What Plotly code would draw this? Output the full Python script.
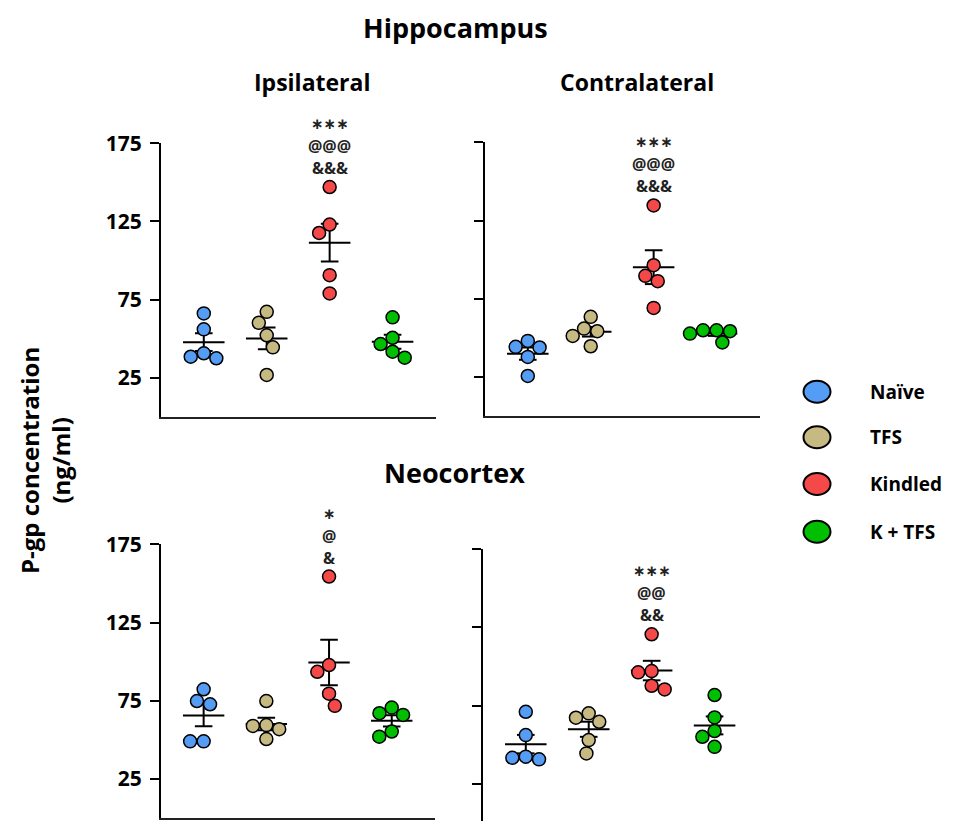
import math
import numpy as np
import plotly.graph_objects as go

# ---------------- data ----------------
groups = ["Naïve", "TFS", "Kindled", "K + TFS"]
colors = ["#559CF5", "#C6B982", "#F54848", "#00BE00"]

# Hippocampus – ipsilateral
hip_ipsi_naive = [66.1, 55.9, 40.6, 38.4, 37.4]
hip_ipsi_tfs = [67.1, 60.1, 52.1, 44.4, 26.7]
hip_ipsi_kindled = [147.0, 123.0, 117.6, 90.6, 78.9]
hip_ipsi_ktfs = [63.6, 50.5, 46.5, 41.6, 37.8]
# Hippocampus – contralateral
hip_contra_naive = [48.0, 44.2, 43.8, 37.8, 25.6]
hip_contra_tfs = [63.4, 55.9, 54.2, 51.2, 44.6]
hip_contra_kindled = [134.6, 96.4, 89.6, 86.2, 69.1]
hip_contra_ktfs = [54.8, 54.8, 54.2, 52.7, 47.0]
# Neocortex – ipsilateral
neo_ipsi_naive = [82.3, 74.8, 72.7, 49.0, 49.0]
neo_ipsi_tfs = [74.8, 59.4, 58.9, 56.8, 50.5]
neo_ipsi_kindled = [154.4, 97.8, 93.5, 79.5, 71.7]
neo_ipsi_ktfs = [70.6, 67.0, 65.9, 55.3, 52.0]
# Neocortex – contralateral
neo_contra_naive = [71.0, 56.1, 42.3, 41.6, 40.6]
neo_contra_tfs = [70.0, 67.2, 64.6, 52.9, 44.4]
neo_contra_kindled = [120.5, 97.0, 96.2, 87.6, 85.3]
neo_contra_ktfs = [81.7, 67.4, 58.7, 55.0, 48.6]

sig_star = ["∗∗∗", "∗∗∗", "∗", "∗∗∗"]
sig_at = ["@@@", "@@@", "@", "@@"]
sig_amp = ["&&&", "&&&", "&", "&&"]

y_ticks = [25, 75, 125, 175]

panel_data = [
    [hip_ipsi_naive, hip_ipsi_tfs, hip_ipsi_kindled, hip_ipsi_ktfs],
    [hip_contra_naive, hip_contra_tfs, hip_contra_kindled, hip_contra_ktfs],
    [neo_ipsi_naive, neo_ipsi_tfs, neo_ipsi_kindled, neo_ipsi_ktfs],
    [neo_contra_naive, neo_contra_tfs, neo_contra_kindled, neo_contra_ktfs],
]

# ---------------- layout geometry ----------------
W, H = 958, 821
FONT = "Open Sans"
XR = [-0.68, 3.69]

panels = [
    dict(xd=(161, 436), yd=(416.7, 143.3), yr=[0, 175], labels=True, xline=True),
    dict(xd=(485, 760), yd=(416.0, 142.3), yr=[0, 175], labels=False, xline=True),
    dict(xd=(161, 435), yd=(818.0, 544.3), yr=[0, 175], labels=True, xline=True),
    dict(xd=(483, 758), yd=(821.0, 549.0), yr=[1.2, 175], labels=False, xline=False),
]

MSIZE = 13
D_SWARM = 13.5


def swarm_offsets(vals, xpx, ypx):
    """Beeswarm: horizontal offsets (category units) so markers don't overlap."""
    order = sorted(range(len(vals)), key=lambda i: -vals[i])
    placed = []
    offs = [0.0] * len(vals)
    last_side = 1
    for i in order:
        y = vals[i] * ypx
        cands = [0.0]
        for xj, yj in placed:
            dy = abs(y - yj)
            if dy < D_SWARM:
                dx = math.sqrt(D_SWARM ** 2 - dy ** 2)
                cands += [xj + dx, xj - dx]
        valid = [c for c in cands
                 if all(math.hypot(c - xj, y - yj) >= D_SWARM - 1e-6 for xj, yj in placed)]
        best_abs = min(abs(c) for c in valid)
        best = [c for c in valid if abs(abs(c) - best_abs) < 1e-6]
        if len(best) > 1:
            c = max(best) if last_side < 0 else min(best)
        else:
            c = best[0]
        if c != 0:
            last_side = 1 if c > 0 else -1
        placed.append((c, y))
        offs[i] = c / xpx
    return offs


fig = go.Figure()
layout = dict(
    template="none",
    width=W, height=H, autosize=False,
    margin=dict(l=0, r=0, t=0, b=0, pad=0),
    paper_bgcolor="white", plot_bgcolor="white",
    showlegend=False,
    font=dict(family=FONT, color="black"),
)
annotations = []
shapes = []

for p, (pan, data) in enumerate(zip(panels, panel_data)):
    k = "" if p == 0 else str(p + 1)
    xa, ya = "x" + k, "y" + k
    x0, x1 = pan["xd"]
    yb, yt = pan["yd"]
    layout["xaxis" + k] = dict(
        domain=[x0 / W, x1 / W], range=XR, anchor=ya, automargin=False,
        showgrid=False, zeroline=False, showticklabels=False, ticks="",
        showline=pan["xline"], linecolor="#222", linewidth=2,
    )
    layout["yaxis" + k] = dict(
        domain=[1 - yb / H, 1 - yt / H], range=pan["yr"], anchor=xa, automargin=False,
        showgrid=False, zeroline=False,
        showline=True, linecolor="black", linewidth=2,
        ticks="outside", ticklen=9, tickwidth=2, tickcolor="black",
        tickvals=y_ticks, ticktext=[str(t) for t in y_ticks],
        showticklabels=pan["labels"], ticklabelstandoff=4,
        tickfont=dict(family=FONT, size=21, color="black", weight="bold"),
    )
    xpx = (x1 - x0) / (XR[1] - XR[0])
    ypx = (yb - yt) / (pan["yr"][1] - pan["yr"][0])

    # mean ± SEM lines (drawn beneath points)
    lx, ly = [], []
    for g, vals in enumerate(data):
        v = np.array(vals)
        m = v.mean()
        s = v.std(ddof=1) / math.sqrt(len(v))
        lx += [g - 0.33, g + 0.33, None, g, g, None,
               g - 0.14, g + 0.14, None, g - 0.14, g + 0.14, None]
        ly += [m, m, None, m - s, m + s, None,
               m + s, m + s, None, m - s, m - s, None]
    fig.add_trace(go.Scatter(x=lx, y=ly, mode="lines", xaxis=xa, yaxis=ya,
                             line=dict(color="black", width=2),
                             hoverinfo="skip", cliponaxis=False))

    # points
    for g, vals in enumerate(data):
        offs = swarm_offsets(vals, xpx, ypx)
        fig.add_trace(go.Scatter(
            x=[g + o for o in offs], y=vals, mode="markers", xaxis=xa, yaxis=ya,
            name=groups[g], cliponaxis=False,
            marker=dict(size=MSIZE, color=colors[g],
                        line=dict(color="black", width=1.5)),
        ))

    # significance markers above the Kindled group
    top = max(data[2])
    for txt_, shift, size, fam, wt in [(sig_amp[p], 19, 16, FONT, "bold"),
                                       (sig_at[p], 41, 16, FONT, "bold"),
                                       (sig_star[p], 63, 15, "DejaVu Sans", "bold")]:
        annotations.append(dict(
            x=2, y=top, xref=xa, yref=ya, text=txt_, showarrow=False,
            yshift=shift, xanchor="center", yanchor="middle",
            font=dict(family=fam, size=size, color="#222", weight=wt),
        ))


def txt(x, y, s, size, **kw):
    d = dict(x=x / W, y=1 - y / H, xref="paper", yref="paper", text=s,
             showarrow=False, xanchor="center", yanchor="middle",
             font=dict(family=FONT, size=size, color="black", weight="bold"))
    d.update(kw)
    annotations.append(d)


# titles
txt(455, 27, "Hippocampus", 27)
txt(312, 82, "Ipsilateral", 23)
txt(637, 82, "Contralateral", 23)
txt(454, 472, "Neocortex", 27)
txt(45, 461, "P-gp concentration<br>(ng/ml)", 24, textangle=-90)

# legend
leg_y = [391.7, 437.3, 484.0, 531.7]
for g, yc in enumerate(leg_y):
    shapes.append(dict(type="circle", xref="paper", yref="paper",
                       x0=(817 - 13.5) / W, x1=(817 + 13.5) / W,
                       y0=1 - (yc + 11) / H, y1=1 - (yc - 11) / H,
                       fillcolor=colors[g], line=dict(color="black", width=2)))
    txt(868, yc, groups[g], 19, xanchor="left")

layout["annotations"] = annotations
layout["shapes"] = shapes
fig.update_layout(**layout)
fig.write_html(
    "out.html",
    config={"displayModeBar": False},
    post_script="document.body.style.margin='0';document.body.style.padding='0';"
                "document.documentElement.style.overflow='hidden';",
)
